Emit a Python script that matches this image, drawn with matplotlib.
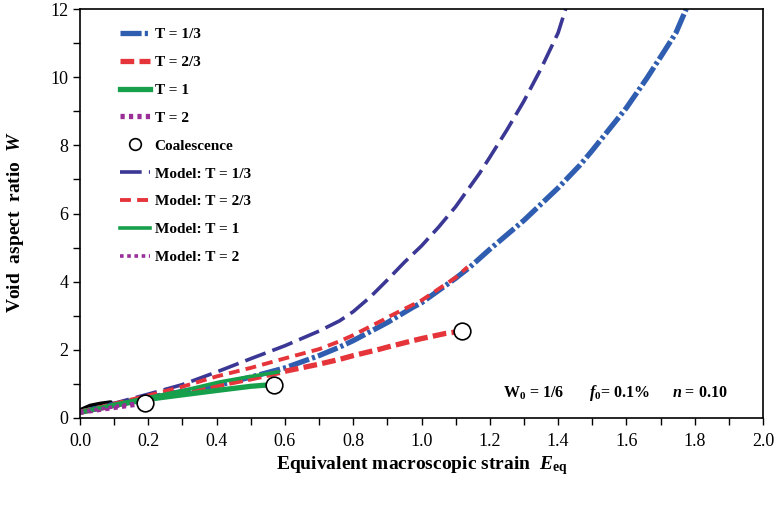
import matplotlib
matplotlib.use("Agg")
import matplotlib.pyplot as plt
from matplotlib.ticker import MultipleLocator, FuncFormatter

plt.rcParams['font.family'] = ['Liberation Serif', 'DejaVu Serif']
plt.rcParams['mathtext.fontset'] = 'custom'
plt.rcParams['mathtext.rm'] = 'Liberation Serif:bold'
plt.rcParams['mathtext.bf'] = 'Liberation Serif:bold'
plt.rcParams['mathtext.it'] = 'Liberation Serif:italic:bold'

# ---- data ----
fem13_x = [0, 0.1, 0.2, 0.3, 0.4, 0.5, 0.6, 0.7, 0.76, 0.8, 0.9, 0.975, 1.0, 1.1, 1.142, 1.2,
           1.3, 1.4, 1.464, 1.5, 1.6, 1.66, 1.707, 1.745, 1.775]
fem13_y = [0.17, 0.4, 0.6, 0.78, 0.95, 1.2, 1.47, 1.83, 2.08, 2.27, 2.8, 3.25, 3.38, 4.1, 4.43, 4.95,
           5.8, 6.75, 7.42, 7.85, 9.1, 9.97, 10.7, 11.3, 12.0]

fem23_x = [0, 0.1, 0.2, 0.3, 0.4, 0.5, 0.6, 0.7, 0.76, 0.8, 0.878, 0.9, 0.975, 1.0, 1.07, 1.12]
fem23_y = [0.17, 0.38, 0.57, 0.76, 0.95, 1.15, 1.37, 1.58, 1.72, 1.83, 2.02, 2.08, 2.27, 2.33, 2.48, 2.55]

fem1_x = [0, 0.1, 0.2, 0.3, 0.41, 0.5, 0.55]
fem1_y = [0.17, 0.37, 0.55, 0.68, 0.82, 0.93, 0.97]

fem2_x = [0, 0.1, 0.19]
fem2_y = [0.17, 0.31, 0.44]

coal_x = [0.19, 0.568, 1.12]
coal_y = [0.44, 0.97, 2.55]

mod13_x = [0, 0.1, 0.2, 0.3, 0.4, 0.5, 0.6, 0.7, 0.76, 0.8, 0.85, 0.9, 0.95, 1.0, 1.05, 1.1,
           1.17, 1.2, 1.25, 1.3, 1.35, 1.4, 1.422]
mod13_y = [0.17, 0.43, 0.7, 0.98, 1.35, 1.74, 2.12, 2.55, 2.85, 3.12, 3.55, 4.05, 4.57, 5.05, 5.6, 6.2,
           7.18, 7.65, 8.45, 9.3, 10.25, 11.3, 12.0]

mod23_x = [0, 0.1, 0.2, 0.3, 0.4, 0.5, 0.6, 0.7, 0.76, 0.8, 0.888, 0.9, 1.0, 1.1, 1.135]
mod23_y = [0.17, 0.42, 0.66, 0.92, 1.22, 1.47, 1.75, 2.02, 2.25, 2.43, 2.88, 2.95, 3.45, 4.12, 4.43]

mod1_x = [0, 0.1, 0.2, 0.3, 0.41, 0.5, 0.58]
mod1_y = [0.17, 0.4, 0.6, 0.8, 1.06, 1.22, 1.35]

mod2_x = [0, 0.1, 0.2]
mod2_y = [0.17, 0.33, 0.5]

blk_x = [0.005, 0.03, 0.06, 0.09]
blk_y = [0.25, 0.36, 0.42, 0.46]

BLUE = '#2f5db0'
INDIGO = '#3b3895'
RED = '#e6343b'
GREEN = '#17a04c'
PURPLE = '#9a2f98'

fig = plt.figure(figsize=(7.77, 5.05), dpi=100)
ax = fig.add_axes([80/777, 1-418/505, 683/777, 409/505])

ax.plot(blk_x, blk_y, color='black', lw=3, solid_capstyle='round')
l1, = ax.plot(fem13_x, fem13_y, color=BLUE, lw=3.8, dashes=[4, 0.6, 0.6, 0.6], label='T = 1/3')
l2, = ax.plot(fem23_x, fem23_y, color=RED, lw=3.8, dashes=[2.6, 1.0], label='T = 2/3')
l3, = ax.plot(fem1_x, fem1_y, color=GREEN, lw=3.8, label='T = 1')
l4, = ax.plot(fem2_x, fem2_y, color=PURPLE, lw=3.8, dashes=[0.8, 0.8], label='T = 2')
m1, = ax.plot(mod13_x, mod13_y, color=INDIGO, lw=2.6, dashes=[6, 2], label='Model: T = 1/3')
m2, = ax.plot(mod23_x, mod23_y, color=RED, lw=2.8, dashes=[2.8, 1.6], label='Model: T = 2/3')
m3, = ax.plot(mod1_x, mod1_y, color=GREEN, lw=2.6, label='Model: T = 1')
m4, = ax.plot(mod2_x, mod2_y, color=PURPLE, lw=2.6, dashes=[1, 1], label='Model: T = 2')
c, = ax.plot(coal_x, coal_y, 'o', ms=12, mfc='white', mec='black', mew=1.2, ls='none',
             label='Coalescence', zorder=5)

ax.set_xlim(0, 2.0)
ax.set_ylim(0, 12)
ax.xaxis.set_major_locator(MultipleLocator(0.2))
ax.xaxis.set_minor_locator(MultipleLocator(0.1))
ax.yaxis.set_major_locator(MultipleLocator(2))
ax.yaxis.set_minor_locator(MultipleLocator(1))
ax.tick_params(which='both', direction='out', length=5, width=1, labelsize=13)
ax.tick_params(axis='x', pad=6)
ax.xaxis.set_major_formatter(FuncFormatter(lambda v, p: f'{v:.1f}'))
ax.yaxis.set_major_formatter(FuncFormatter(lambda v, p: f'{v:.0f}'))
for s in ax.spines.values():
    s.set_linewidth(1.2)

ax.set_xlabel(r'Equivalent macroscopic strain  $E_{\mathrm{eq}}$', fontsize=14, fontweight='bold', labelpad=3)
ax.set_ylabel(r'Void  aspect  ratio  $W$', fontsize=14, fontweight='bold')
ax.yaxis.set_label_coords(-0.079, 0.48)

ax.text(1.239, 0.73, r'W$_0$ = 1/6', fontsize=11.5, fontweight='bold', va='center')
ax.text(1.49, 0.73, r'$f_0$= 0.1%', fontsize=11.5, fontweight='bold', va='center')
ax.text(1.733, 0.73, r'$n$ = 0.10', fontsize=11.5, fontweight='bold', va='center')

leg = ax.legend(handles=[l1, l2, l3, l4, c, m1, m2, m3, m4], loc='upper left',
                bbox_to_anchor=(0.05, 0.97), frameon=False,
                prop={'family': 'Liberation Serif', 'weight': 'bold', 'size': 11},
                handlelength=1.95, handletextpad=0.3, labelspacing=0.93, borderaxespad=0,
                markerscale=0.7)

fig.savefig('out.png', dpi=100)
